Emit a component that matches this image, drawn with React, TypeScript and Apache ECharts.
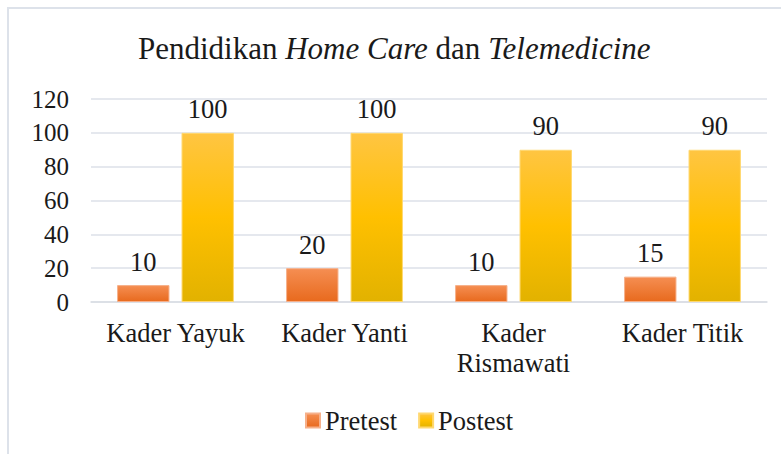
import React, { useEffect, useRef } from "react";
import * as echarts from "echarts";

const categories = ["Kader Yayuk", "Kader Yanti", "Kader\nRismawati", "Kader Titik"];
const pretest = [10, 20, 10, 15];
const postest = [100, 100, 90, 90];
const seriesNames = ["Pretest", "Postest"];

const FONT = "'Liberation Serif', 'Times New Roman', serif";
const TEXT = "#1a1a1a";

export default function App() {
  const ref = useRef<HTMLDivElement>(null);
  useEffect(() => {
    if (!ref.current) return;
    const chart = echarts.init(ref.current, undefined, { renderer: "svg" });
    const orangeGrad = new echarts.graphic.LinearGradient(0, 0, 0, 1, [
      { offset: 0, color: "#F58E52" },
      { offset: 1, color: "#E86A1E" },
    ]);
    const yellowGrad = new echarts.graphic.LinearGradient(0, 0, 0, 1, [
      { offset: 0, color: "#FFC542" },
      { offset: 0.5, color: "#FFC000" },
      { offset: 1, color: "#E2B200" },
    ]);
    const labelStyle = {
      show: true,
      position: "top",
      distance: 10,
      fontFamily: FONT,
      fontSize: 26.5,
      color: TEXT,
    };
    chart.setOption({
      animation: false,
      textStyle: { fontFamily: FONT },
      graphic: [
        {
          type: "rect",
          shape: { x: 8, y: 8, width: 800, height: 800 },
          style: { fill: "none", stroke: "#DDE2EA", lineWidth: 2 },
          silent: true,
        },
      ],
      title: {
        text: "Pendidikan {i|Home Care} dan {i|Telemedicine}",
        left: 133,
        top: 28,
        textStyle: {
          fontFamily: FONT,
          fontSize: 31,
          fontWeight: "normal",
          color: TEXT,
          rich: {
            i: { fontFamily: FONT, fontSize: 31, fontStyle: "italic", color: TEXT },
          },
        },
      },
      legend: {
        data: seriesNames,
        top: 402,
        left: 300,
        itemWidth: 14,
        itemHeight: 14,
        itemGap: 21,
        icon: "rect",
        textStyle: { fontFamily: FONT, fontSize: 26.5, color: TEXT },
      },
      grid: { left: 91, right: 14, top: 99, bottom: 152, containLabel: false },
      xAxis: {
        type: "category",
        data: categories,
        axisLine: { show: true, lineStyle: { color: "#D9DDE3", width: 1.5 } },
        axisTick: { show: false },
        axisLabel: {
          fontFamily: FONT,
          fontSize: 26.5,
          color: TEXT,
          margin: 16,
          lineHeight: 30,
          interval: 0,
        },
      },
      yAxis: {
        type: "value",
        min: 0,
        max: 120,
        interval: 20,
        axisLine: { show: false },
        axisTick: { show: false },
        splitLine: { lineStyle: { color: "#DDE1E8", width: 1.5 } },
        axisLabel: { fontFamily: FONT, fontSize: 25, color: TEXT, margin: 22 },
      },
      series: [
        {
          name: seriesNames[0],
          type: "bar",
          data: pretest,
          barWidth: "31%",
          barGap: "23%",
          itemStyle: { color: orangeGrad, borderColor: "#F6B08A", borderWidth: 1 },
          label: labelStyle,
        },
        {
          name: seriesNames[1],
          type: "bar",
          data: postest,
          barWidth: "31%",
          itemStyle: { color: yellowGrad, borderColor: "#FFD870", borderWidth: 1 },
          label: labelStyle,
        },
      ],
    });
    return () => chart.dispose();
  }, []);
  return (
    <div
      ref={ref}
      style={{ position: "absolute", left: 0, top: 0, width: 781, height: 454, background: "#fff" }}
    />
  );
}
